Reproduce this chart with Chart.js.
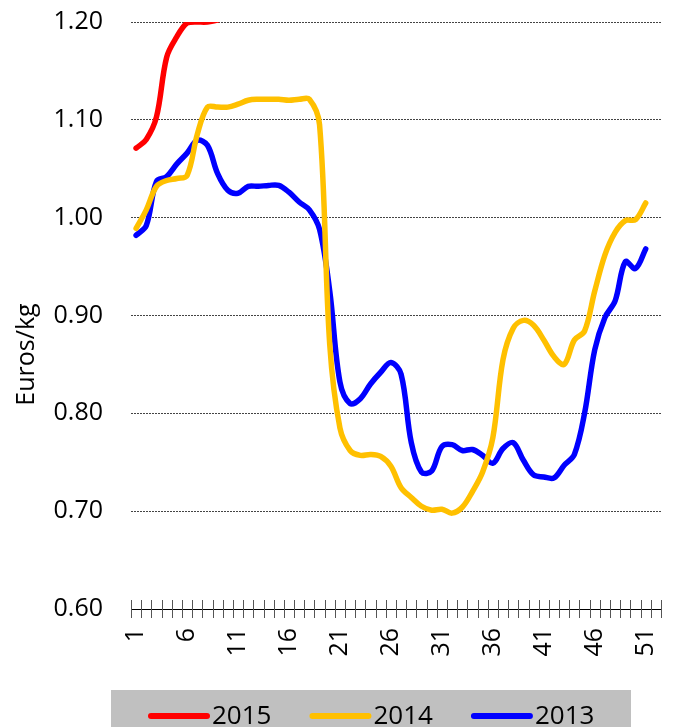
<!DOCTYPE html>
<html>
<head>
<meta charset="utf-8">
<script src="https://cdn.jsdelivr.net/npm/chart.js@4.4.1/dist/chart.umd.min.js"></script>
<style>
  body { margin: 0; background: #fff; }
  canvas { display: block; }
</style>
</head>
<body>
<canvas id="priceChart" width="678" height="727"></canvas>
<script>
// Weeks of the year (category axis)
const weeks = ['1','2','3','4','5','6','7','8','9','10','11','12','13','14','15','16','17','18','19','20',
  '21','22','23','24','25','26','27','28','29','30','31','32','33','34','35','36','37','38','39','40',
  '41','42','43','44','45','46','47','48','49','50','51','52'];

// Only every fifth week gets a label
const weekLabels = ['1','6','11','16','21','26','31','36','41','46','51'];

// Prices, Euros/kg
const prices2015 = [1.071, 1.080, 1.103, 1.164, 1.185, 1.199, 1.200, 1.200, 1.202];

const prices2014 = [0.989, 1.008, 1.032, 1.038, 1.040, 1.043, 1.085, 1.113, 1.113, 1.113,
  1.116, 1.120, 1.121, 1.121, 1.121, 1.120, 1.121, 1.121, 1.095, 0.870,
  0.785, 0.762, 0.757, 0.758, 0.756, 0.746, 0.724, 0.714, 0.705, 0.701,
  0.702, 0.698, 0.704, 0.720, 0.740, 0.775, 0.855, 0.887, 0.895, 0.890,
  0.875, 0.858, 0.850, 0.875, 0.884, 0.925, 0.962, 0.985, 0.997, 0.998,
  1.015];

const prices2013 = [0.982, 0.992, 1.037, 1.042, 1.055, 1.066, 1.079, 1.074, 1.045, 1.028,
  1.025, 1.032, 1.032, 1.033, 1.033, 1.026, 1.016, 1.008, 0.988, 0.925,
  0.832, 0.810, 0.815, 0.830, 0.842, 0.852, 0.840, 0.770, 0.740, 0.741,
  0.766, 0.768, 0.762, 0.763, 0.757, 0.749, 0.764, 0.770, 0.752, 0.737,
  0.735, 0.734, 0.747, 0.758, 0.800, 0.865, 0.898, 0.915, 0.955, 0.948,
  0.968];

// Y axis ticks
const yTicks = [0.60, 0.70, 0.80, 0.90, 1.00, 1.10, 1.20];

const FONT = "'Open Sans', 'Noto Sans', sans-serif";

// Draws the crossing tick marks on the x axis, the y title and the grey legend bar
const extrasPlugin = {
    id: 'extras',
    afterDraw(chart) {
        const ctx = chart.ctx;
        const x = chart.scales.x;
        const area = chart.chartArea;

        // cross ticks at the category boundaries
        const n = x.ticks.length;
        const step = (x.right - x.left) / n;
        ctx.save();
        ctx.strokeStyle = '#555';
        ctx.lineWidth = 1;
        ctx.beginPath();
        for (let i = 0; i <= n; i++) {
            const px = Math.round(x.left + i * step) + 0.5;
            ctx.moveTo(px, area.bottom - 9);
            ctx.lineTo(px, area.bottom + 9);
        }
        ctx.stroke();
        ctx.restore();

        // y axis title
        ctx.save();
        ctx.translate(27, (area.top + area.bottom) / 2 + 39);
        ctx.rotate(-Math.PI / 2);
        ctx.font = '25px ' + FONT;
        ctx.fillStyle = '#000';
        ctx.textAlign = 'center';
        ctx.textBaseline = 'middle';
        ctx.fillText('Euros/kg', 0, 0);
        ctx.restore();

        // legend
        ctx.save();
        ctx.fillStyle = '#c0c0c0';
        ctx.fillRect(111, 690, 520, 60);
        ctx.font = '26px ' + FONT;
        ctx.textAlign = 'left';
        ctx.textBaseline = 'alphabetic';
        let lx = 151;
        chart.data.datasets.forEach(ds => {
            ctx.strokeStyle = ds.borderColor;
            ctx.lineWidth = 6;
            ctx.lineCap = 'round';
            ctx.beginPath();
            ctx.moveTo(lx, 716);
            ctx.lineTo(lx + 56, 716);
            ctx.stroke();
            ctx.fillStyle = '#000';
            ctx.fillText(ds.label, lx + 61, 724);
            lx += 61 + ctx.measureText(ds.label).width + 41;
        });
        ctx.restore();
    }
};

function renderChart() {
    const ctx = document.getElementById('priceChart').getContext('2d');
    const lineStyle = { borderWidth: 5.5, pointRadius: 0, tension: 0.35, fill: false, borderCapStyle: 'round', borderJoinStyle: 'round' };

    new Chart(ctx, {
        type: 'line',
        data: {
            labels: weeks,
            datasets: [
                { label: '2015', data: prices2015, borderColor: '#ff0000', backgroundColor: '#ff0000', ...lineStyle },
                { label: '2014', data: prices2014, borderColor: '#ffc000', backgroundColor: '#ffc000', ...lineStyle },
                { label: '2013', data: prices2013, borderColor: '#0000ff', backgroundColor: '#0000ff', ...lineStyle }
            ]
        },
        options: {
            responsive: false,
            animation: false,
            layout: { padding: { top: 22, right: 17, left: 0, bottom: 0 } },
            plugins: {
                legend: { display: false },
                tooltip: { enabled: false }
            },
            scales: {
                x: {
                    offset: true,
                    grid: { display: true, offset: true, drawOnChartArea: false, drawTicks: true, tickLength: 19, tickColor: 'rgba(0,0,0,0)' },
                    border: { display: true, color: '#000', width: 1 },
                    ticks: {
                        autoSkip: false,
                        maxRotation: 90,
                        minRotation: 90,
                        padding: 0,
                        color: '#000',
                        font: { size: 25, family: FONT },
                        callback: function (value, index) {
                            const lbl = weeks[index];
                            return weekLabels.includes(lbl) ? lbl : '';
                        }
                    },
                    afterFit(scale) {
                        scale.height = 118;
                        scale.paddingLeft = 0;
                        scale.paddingRight = 0;
                    }
                },
                y: {
                    min: yTicks[0],
                    max: yTicks[yTicks.length - 1],
                    afterBuildTicks(scale) { scale.ticks = yTicks.map(v => ({ value: v })); },
                    grid: { drawTicks: true, tickLength: 28, tickColor: 'rgba(0,0,0,0)', color: '#444', lineWidth: 1 },
                    border: { display: false, dash: [2, 1] },
                    ticks: {
                        padding: 0,
                        color: '#000',
                        font: { size: 25, family: FONT },
                        callback: v => v.toFixed(2)
                    },
                    afterFit(scale) { scale.width = 131; }
                }
            }
        },
        plugins: [extrasPlugin]
    });
}

window.onload = renderChart;
</script>
</body>
</html>
